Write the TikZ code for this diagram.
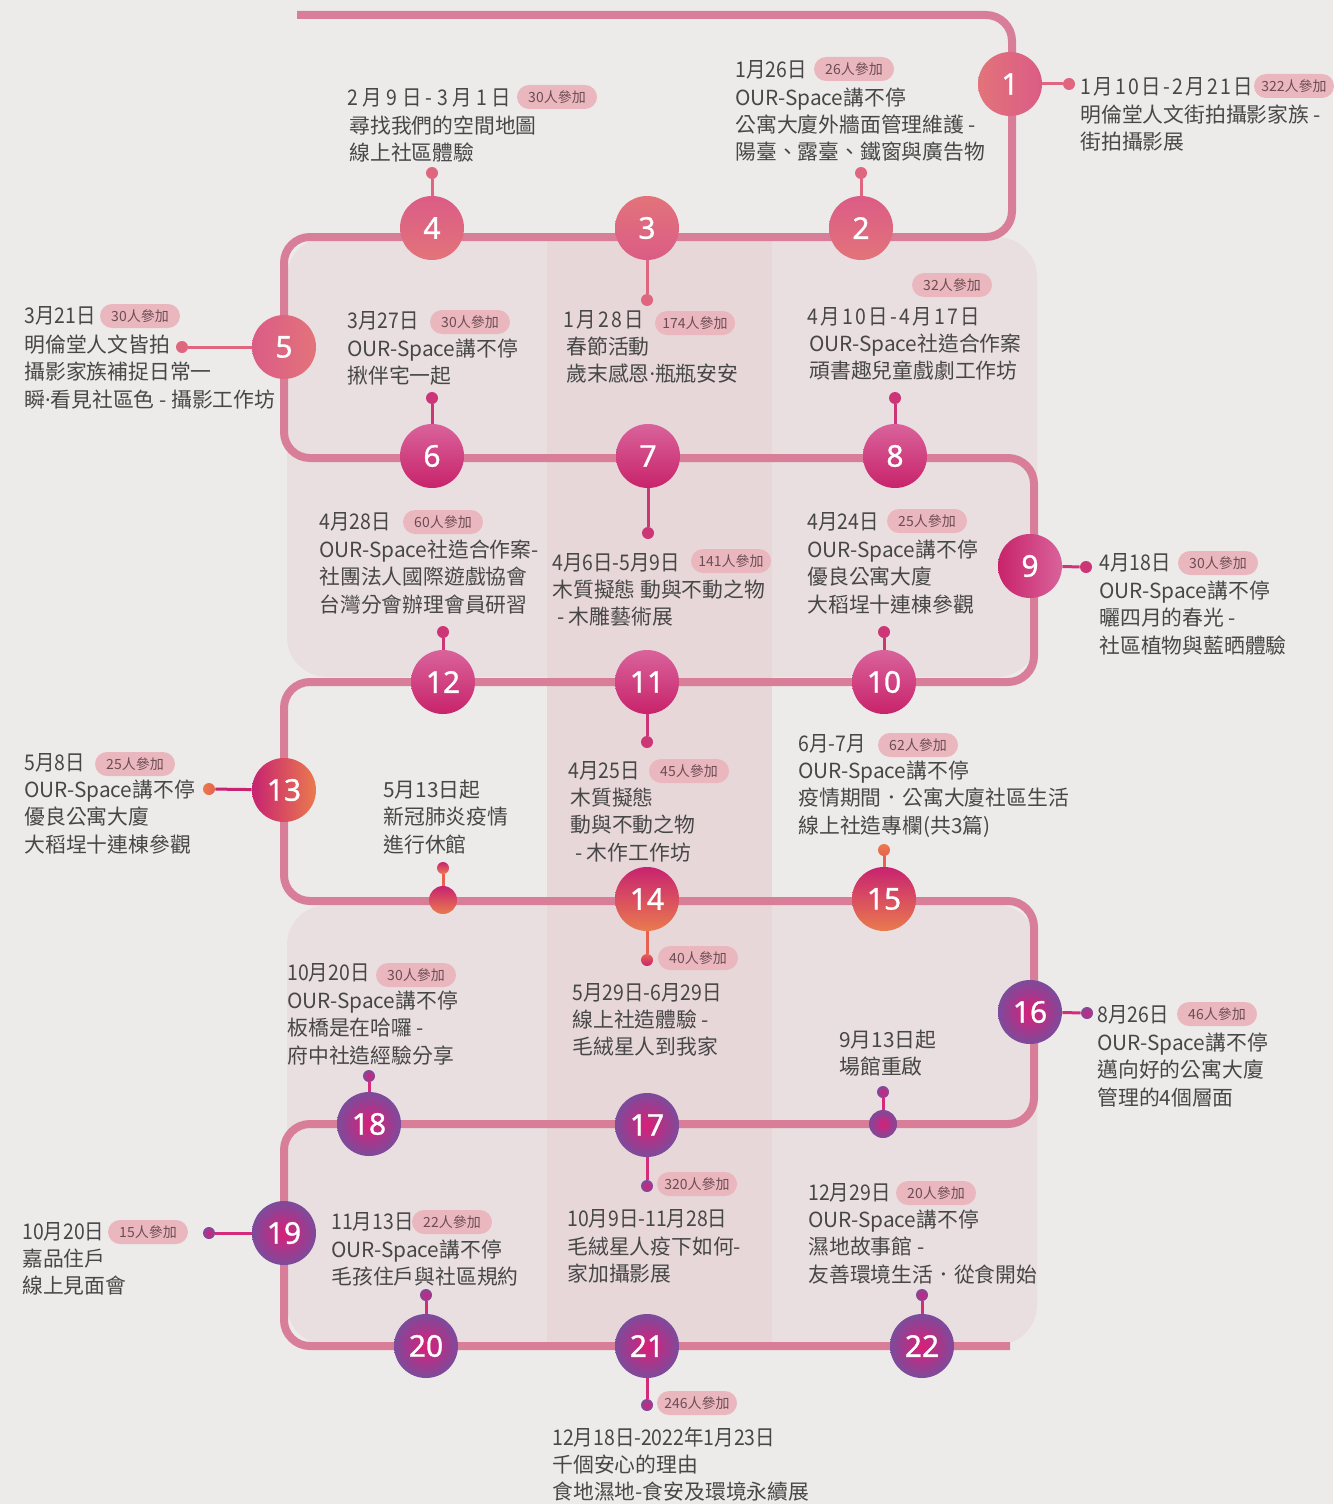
\documentclass[tikz,border=0pt]{standalone}
\usepackage{fontspec}
\newfontfamily\cjk{Noto Sans CJK TC}
\newfontfamily\cjkdate[FakeStretch=0.9]{Noto Sans CJK TC}
\newfontfamily\cjkwide[FakeStretch=0.9,LetterSpace=11]{Noto Sans CJK TC}
\newfontfamily\cjkwider[FakeStretch=0.9,LetterSpace=21]{Noto Sans CJK TC}
\newfontfamily\numf[FakeBold=1]{Noto Sans}
\newfontfamily\latinf{Noto Sans}
\newcommand\mdot{{\latinf ·}}
\newcommand\bodyfont{\cjk\fontsize{10.4pt}{12pt}\selectfont}
\newcommand\datefont{\cjkdate\fontsize{10.8pt}{12pt}\selectfont}
\newcommand\widedate{\cjkwide\fontsize{10.8pt}{12pt}\selectfont}
\newcommand\widerdate{\cjkwider\fontsize{10.8pt}{12pt}\selectfont}
\newcommand\badgefont{\cjk\fontsize{7pt}{8pt}\selectfont}
\newcommand\numfont{\numf\fontsize{15pt}{16pt}\selectfont}
\definecolor{bgc}{HTML}{ECEBEA}
\definecolor{panelc}{HTML}{EADFE0}
\definecolor{colc}{HTML}{E7D7D9}
\definecolor{pathc}{HTML}{D87E99}
\definecolor{txtc}{HTML}{474747}
\definecolor{badgec}{HTML}{EBB7BE}
\definecolor{badgetxt}{HTML}{6B4D53}
\definecolor{pa}{HTML}{DB5C86}
\definecolor{pb}{HTML}{E2737A}
\definecolor{ma}{HTML}{D9639B}
\definecolor{mb}{HTML}{C8236A}
\definecolor{oa}{HTML}{C72370}
\definecolor{ob}{HTML}{EA7A4E}
\definecolor{va}{HTML}{DA1F78}
\definecolor{vb}{HTML}{7C4B9B}
\definecolor{pinkdot}{HTML}{E0657F}
\definecolor{magdot}{HTML}{CC3677}
\definecolor{orgline}{HTML}{E8604F}
\definecolor{purline}{HTML}{D62B7A}
\newcommand\evlines[4]{\foreach \t [count=\i] in {#4}{\node[txt] (#1-\i) at (#2,{#3+(\i-1)*27.4}) {\t};}}
\begin{document}
\begin{tikzpicture}[x=0.5pt,y=-0.5pt,
  txt/.style={anchor=west, inner sep=0pt, font=\bodyfont, text=txtc, text height=8.8pt, text depth=1.6pt},
  dt/.style={txt, font=\datefont},
  dtw/.style={txt, font=\widedate},
  dtww/.style={txt, font=\widerdate},
  badge/.style={fill=badgec, rounded corners=6pt, minimum height=12pt, minimum width=40pt, inner xsep=3pt, inner ysep=0pt, font=\badgefont, text=badgetxt},
  num/.style={circle, minimum size=32pt, inner sep=0pt, font=\numfont, text=white},
  dotn/.style={circle, minimum size=6pt, inner sep=0pt},
  mk/.style={circle, minimum size=14pt, inner sep=0pt},
  conn/.style={line width=1.5pt}]
\useasboundingbox (0,0) rectangle (1333,1504);
\fill[bgc] (0,0) rectangle (1333,1504);
\fill[panelc, rounded corners=20pt] (287,237) rectangle (1037,677);
\fill[panelc, rounded corners=20pt] (287,905) rectangle (1037,1345);
\fill[colc] (547,237) rectangle (772,1345);
% timeline
\draw[pathc, line width=4pt, rounded corners=13pt] (297,15) -- (1012,15) -- (1012,237) -- (284,237) -- (284,458) -- (1034,458) -- (1034,682) -- (284,682) -- (284,901) -- (1034,901) -- (1034,1124) -- (284,1124) -- (284,1346) -- (1010,1346);
% dots
\node[dotn, fill=pinkdot] (d1) at (1069,84) {};
\node[dotn, fill=pinkdot] (d2) at (861,173) {};
\node[dotn, fill=pinkdot] (d3) at (647,300) {};
\node[dotn, fill=pinkdot] (d4) at (432,173) {};
\node[dotn, fill=pinkdot] (d5) at (182,347) {};
\node[dotn, fill=magdot] (d6) at (432,398) {};
\node[dotn, fill=magdot] (d7) at (648,533) {};
\node[dotn, fill=magdot] (d8) at (895,398) {};
\node[dotn, fill=magdot] (d9) at (1086,567) {};
\node[dotn, fill=magdot] (d10) at (884,632) {};
\node[dotn, fill=magdot] (d11) at (647,742) {};
\node[dotn, fill=magdot] (d12) at (443,632) {};
\node[dotn, left color=ob, right color=orgline] (d13) at (209,789) {};
\node[dotn, top color=orgline, bottom color=oa] (d14) at (647,960) {};
\node[dotn, top color=ob, bottom color=orgline] (d15) at (884,850) {};
\node[dotn, top color=oa, bottom color=ob] (dm1) at (443,868) {};
\node[dotn, inner color=va, outer color=vb] (d16) at (1087,1013) {};
\node[dotn, inner color=va, outer color=vb] (d17) at (647,1186) {};
\node[dotn, inner color=va, outer color=vb] (d18) at (369,1076) {};
\node[dotn, inner color=va, outer color=vb] (d19) at (209,1233) {};
\node[dotn, inner color=va, outer color=vb] (d20) at (426,1295) {};
\node[dotn, inner color=va, outer color=vb] (d21) at (647,1405) {};
\node[dotn, inner color=va, outer color=vb] (d22) at (922,1295) {};
\node[dotn, inner color=va, outer color=vb] (dm2) at (883,1092) {};
% circles
\node[num, left color=pb, right color=pa] (c1) at (1010,84) {1};
\node[num, top color=pa, bottom color=pb] (c2) at (861,228) {2};
\node[num, top color=pb, bottom color=pa] (c3) at (647,228) {3};
\node[num, top color=pa, bottom color=pb] (c4) at (432,228) {4};
\node[num, left color=pa, right color=pb] (c5) at (284,347) {5};
\node[num, top color=ma, bottom color=mb] (c6) at (432,456) {6};
\node[num, top color=ma, bottom color=mb] (c7) at (648,456) {7};
\node[num, top color=ma, bottom color=mb] (c8) at (895,456) {8};
\node[num, left color=mb, right color=ma] (c9) at (1030,566) {9};
\node[num, top color=ma, bottom color=mb] (c10) at (884,682) {10};
\node[num, top color=ma, bottom color=mb] (c11) at (647,682) {11};
\node[num, top color=ma, bottom color=mb] (c12) at (443,682) {12};
\node[num, left color=oa, right color=ob] (c13) at (284,790) {13};
\node[num, top color=oa, bottom color=ob] (c14) at (647,899) {14};
\node[num, top color=oa, bottom color=ob] (c15) at (884,899) {15};
\node[mk, top color=oa, bottom color=ob] (mk1) at (443,900) {};
\node[num, inner color=va, outer color=vb] (c16) at (1030,1012) {16};
\node[num, inner color=va, outer color=vb] (c17) at (647,1125) {17};
\node[num, inner color=va, outer color=vb] (c18) at (369,1124) {18};
\node[num, inner color=va, outer color=vb] (c19) at (284,1233) {19};
\node[num, inner color=va, outer color=vb] (c20) at (426,1346) {20};
\node[num, inner color=va, outer color=vb] (c21) at (647,1346) {21};
\node[num, inner color=va, outer color=vb] (c22) at (922,1346) {22};
\node[mk, inner color=va, outer color=vb] (mk2) at (883,1124) {};
% connectors
\foreach \k in {1,2,3,4,5}{\draw[conn, pinkdot] (c\k) -- (d\k);}
\foreach \k in {6,7,8,9,10,11,12}{\draw[conn, magdot] (c\k) -- (d\k);}
\draw[conn, oa] (c13) -- (d13);
\draw[conn, orgline] (c14) -- (d14);
\draw[conn, orgline] (c15) -- (d15);
\draw[conn, orgline] (mk1) -- (dm1);
\foreach \k in {16,17,18,19,20,21,22}{\draw[conn, purline] (c\k) -- (d\k);}
\draw[conn, purline] (mk2) -- (dm2);
% badges
\node[badge] (b1) at (1294,86) {322人參加};
\node[badge] (b2) at (854,69) {26人參加};
\node[badge] (b3) at (695,323) {174人參加};
\node[badge] (b4) at (557,97) {30人參加};
\node[badge] (b5) at (140,316) {30人參加};
\node[badge] (b6) at (470,322) {30人參加};
\node[badge] (b7) at (731,561) {141人參加};
\node[badge] (b8) at (952,285) {32人參加};
\node[badge] (b9) at (1218,563) {30人參加};
\node[badge] (b10) at (927,521) {25人參加};
\node[badge] (b11) at (689,771) {45人參加};
\node[badge] (b12) at (443,522) {60人參加};
\node[badge] (b13) at (135,764) {25人參加};
\node[badge] (b14) at (698,958) {40人參加};
\node[badge] (b15) at (918,745) {62人參加};
\node[badge] (b16) at (1217,1014) {46人參加};
\node[badge] (b17) at (697,1184) {320人參加};
\node[badge] (b18) at (416,975) {30人參加};
\node[badge] (b19) at (148,1232) {15人參加};
\node[badge] (b20) at (452,1222) {22人參加};
\node[badge] (b21) at (697,1403) {246人參加};
\node[badge] (b22) at (936,1193) {20人參加};
% dates
\node[dtw] (t1) at (1080,87) {1月10日-2月21日};
\node[dt] (t2) at (735,70) {1月26日};
\node[dtw] (t3) at (563,320) {1月28日};
\node[dtww] (t4) at (347,98) {2月9日-3月1日};
\node[dt] (t5) at (24,316) {3月21日};
\node[dt] (t6) at (347,321) {3月27日};
\node[dt] (t7) at (552,563) {4月6日-5月9日};
\node[dtw] (t8) at (807,317) {4月10日-4月17日};
\node[dt] (t9) at (1099,563) {4月18日};
\node[dt] (t10) at (807,522) {4月24日};
\node[dt] (t11) at (568,771) {4月25日};
\node[dt] (t12) at (319,522) {4月28日};
\node[dt] (t13) at (24,763) {5月8日};
\node[dt] (t14) at (572,993) {5月29日-6月29日};
\node[dt] (t15) at (798,744) {6月-7月};
\node[dt] (t16) at (1097,1015) {8月26日};
\node[dt] (t17) at (567,1219) {10月9日-11月28日};
\node[dt] (t18) at (287,973) {10月20日};
\node[dt] (t19) at (22,1232) {10月20日};
\node[dt] (t20) at (331,1222) {11月13日};
\node[dt] (t21) at (552,1438) {12月18日-2022年1月23日};
\node[dt] (t22) at (808,1193) {12月29日};
% bodies
\evlines{e1}{1080}{115}{明倫堂人文街拍攝影家族 -,街拍攝影展}
\evlines{e2}{735}{98}{OUR-Space講不停,公寓大廈外牆面管理維護 -,陽臺、露臺、鐵窗與廣告物}
\evlines{e3}{566}{347}{春節活動,歲末感恩\mdot 瓶瓶安安}
\evlines{e4}{349}{126}{尋找我們的空間地圖,線上社區體驗}
\evlines{e5}{24}{345}{明倫堂人文皆拍,攝影家族補捉日常一,瞬\mdot 看見社區色 - 攝影工作坊}
\evlines{e6}{347}{349}{OUR-Space講不停,揪伴宅一起}
\evlines{e7}{552}{590}{木質擬態 動與不動之物,~- 木雕藝術展}
\evlines{e8}{809}{344}{OUR-Space社造合作案,頑書趣兒童戲劇工作坊}
\evlines{e9}{1099}{591}{OUR-Space講不停,曬四月的春光 -,社區植物與藍晒體驗}
\evlines{e10}{807}{550}{OUR-Space講不停,優良公寓大廈,大稻埕十連棟參觀}
\evlines{e11}{570}{798}{木質擬態,動與不動之物,~- 木作工作坊}
\evlines{e12}{319}{550}{OUR-Space社造合作案-,社團法人國際遊戲協會,台灣分會辦理會員研習}
\evlines{e13}{24}{790}{OUR-Space講不停,優良公寓大廈,大稻埕十連棟參觀}
\evlines{m1}{383}{790}{5月13日起,新冠肺炎疫情,進行休館}
\evlines{e14}{572}{1020}{線上社造體驗 -,毛絨星人到我家}
\evlines{e15}{798}{771}{OUR-Space講不停,疫情期間．公寓大廈社區生活,線上社造專欄(共3篇)}
\evlines{e16}{1097}{1043}{OUR-Space講不停,邁向好的公寓大廈,管理的4個層面}
\evlines{m2}{839}{1040}{9月13日起,場館重啟}
\evlines{e17}{567}{1247}{毛絨星人疫下如何-,家加攝影展}
\evlines{e18}{287}{1001}{OUR-Space講不停,板橋是在哈囉 -,府中社造經驗分享}
\evlines{e19}{22}{1259}{嘉品住戶,線上見面會}
\evlines{e20}{331}{1250}{OUR-Space講不停,毛孩住戶與社區規約}
\evlines{e21}{552}{1465}{千個安心的理由,食地濕地-食安及環境永續展}
\evlines{e22}{808}{1220}{OUR-Space講不停,濕地故事館 -,友善環境生活．從食開始}
\end{tikzpicture}
\end{document}
